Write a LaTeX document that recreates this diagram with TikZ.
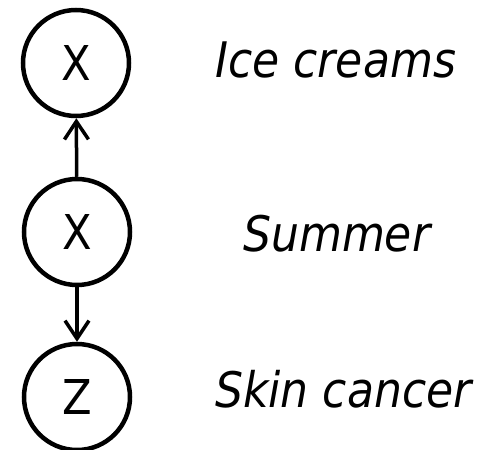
\documentclass[tikz,border=0pt]{standalone}
\usepackage{fontspec}
\setmainfont{DejaVu Sans Condensed}
\usetikzlibrary{arrows.meta}
\begin{document}
\begin{tikzpicture}[x=1pt,y=-1pt,
  var/.style={circle,draw,line width=4.5pt,minimum size=106pt,inner sep=0pt,font=\fontsize{48}{52}\selectfont},
  lab/.style={anchor=base west,inner sep=0pt,font=\fontsize{49}{54}\selectfont\itshape},
  edge/.style={line width=3.5pt,-{Straight Barb[length=18pt,width=24pt,line width=3.5pt]}}]
\useasboundingbox (0,0) rectangle (485,450);
\node[var] (t) at (76,63) {X};
\node[var] (m) at (77,232) {X};
\node[var] (b) at (77,397) {Z};
\node[lab] (lt) at (215,77) {Ice creams};
\node[lab] (lm) at (243,251) {Summer};
\node[lab] (lb) at (215,407) {Skin cancer};
\draw[edge] (m) -- (t);
\draw[edge] (m) -- (b);
\end{tikzpicture}
\end{document}
